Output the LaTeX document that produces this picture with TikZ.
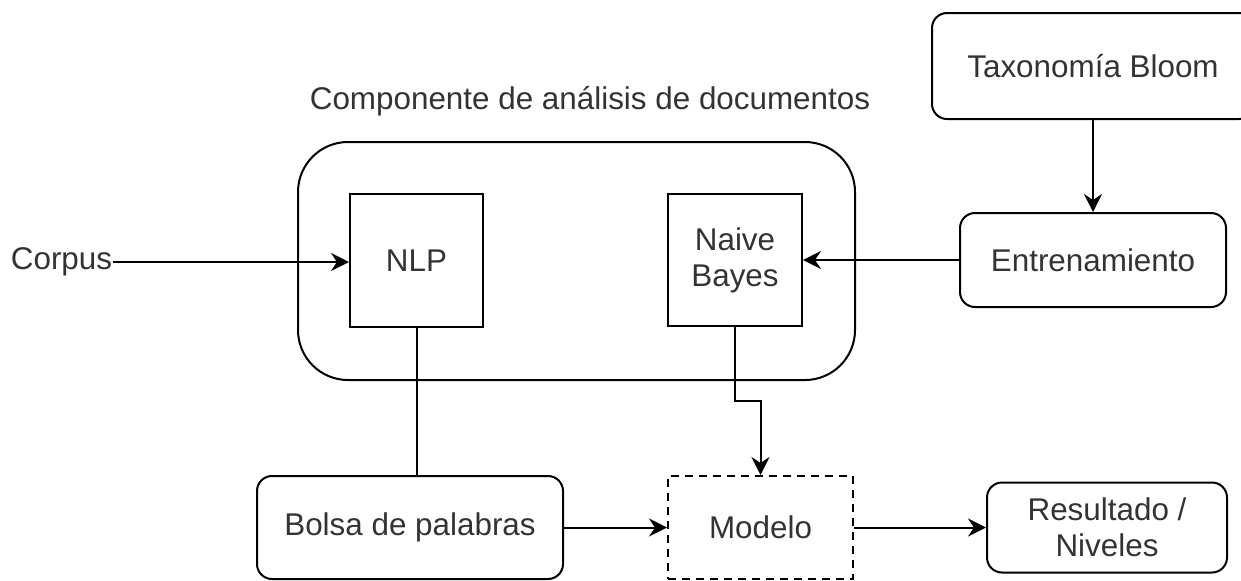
\documentclass[tikz,border=0pt]{standalone}
\usepackage{fontspec}
\setmainfont{Liberation Sans}
\usetikzlibrary{arrows.meta,positioning}
\tikzset{every node/.style={font=\fontsize{15.7}{18}\selectfont,text=black!80,inner sep=0pt},
         box/.style={rectangle,draw,line width=1pt,align=center},
         round box/.style={box,rounded corners=7.5pt},
         model box/.style={box,dash pattern=on 4pt off 3pt},
         group box/.style={box,rounded corners=25pt},
         plain label/.style={rectangle,draw=none,fill=none}
}
\begin{document}
\begin{tikzpicture}[->,>={Stealth[length=9pt,width=9pt,inset=3pt]},line width=1pt,x=0.5pt,y=-0.5pt]
\useasboundingbox (0,0) rectangle (1241,580);
% analysis component
\node [group box,minimum width=278.5pt,minimum height=119pt] (comp) at (576.5,261) {};
\node [plain label] (title) at (590,101) {Componente de análisis de documentos};
\node [box,minimum width=66.5pt,minimum height=66.5pt] (nlp) at (416.5,260.5) {NLP};
\node [box,minimum width=67pt,minimum height=66pt] (nb) at (735,260) {Naive\\Bayes};
% training side
\node [round box,minimum width=161pt,minimum height=53pt] (tax) at (1093,66) {Taxonomía Bloom};
\node [round box,minimum width=133pt,minimum height=47pt] (entr) at (1093,260) {Entrenamiento};
% bottom row
\node [plain label] (corpus) at (61.5,262) {Corpus};
\node [round box,minimum width=153pt,minimum height=51.5pt] (bolsa) at (410,527.5) {Bolsa de palabras};
\node [model box,minimum width=92.5pt,minimum height=51.5pt] (modelo) at (760.5,527.5) {Modelo};
\node [round box,minimum width=120pt,minimum height=45pt] (res) at (1107,527.5) {Resultado /\\Niveles};

\draw (corpus) -- (corpus -| nlp.west);
\draw (tax) -- (entr);
\draw (entr) -- (nb);
\draw[-] (nlp.south) -- (nlp.south |- bolsa.north);
\draw (nb.south) -- ++(0,74) -| (modelo.north);
\draw (bolsa) -- (modelo);
\draw (modelo) -- (res);
\end{tikzpicture}
\end{document}
